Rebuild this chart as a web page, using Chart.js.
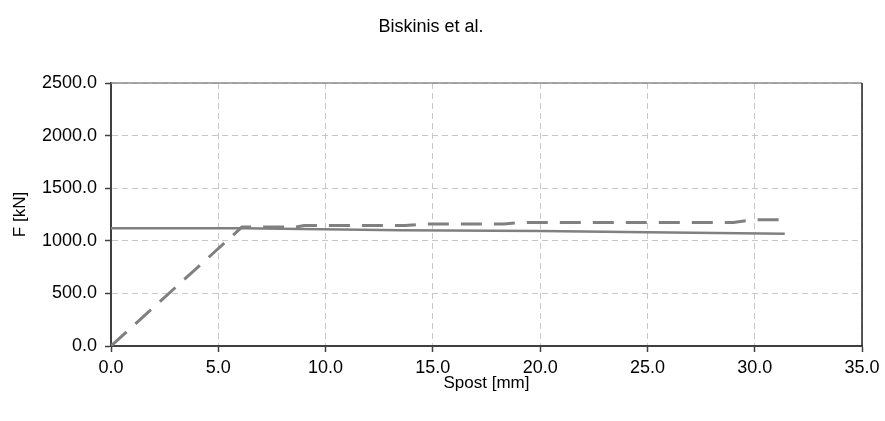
<!DOCTYPE html>
<html>
<head>
<meta charset="utf-8">
<script src="https://cdn.jsdelivr.net/npm/chart.js@4"></script>
<style>
  html, body { margin: 0; padding: 0; background: #ffffff; }
  #wrap { width: 885px; height: 421px; position: relative; }
</style>
</head>
<body>
<div id="wrap"><canvas id="c"></canvas></div>
<script>
// Chart text
const chartTitle = 'Biskinis et al.';
const xAxisTitle = 'Spost [mm]';
const yAxisTitle = 'F [kN]';

// Axis ranges and tick steps
const xTicks = [0, 5, 10, 15, 20, 25, 30, 35];
const yTicks = [0, 500, 1000, 1500, 2000, 2500];

// Dashed curve: force vs. displacement (multi-linear envelope)
const dashedSpost = [0, 6.1, 8.6, 9.0, 13.7, 14.6, 18.3, 19.2, 29.0, 29.9, 31.3];
const dashedF     = [0, 1130, 1130, 1145, 1145, 1160, 1160, 1175, 1175, 1200, 1200];

// Solid curve: shear capacity vs. displacement
const solidSpost = [0, 6.1, 13.5, 20.0, 25.0, 31.4];
const solidF     = [1120, 1120, 1100, 1092, 1082, 1068];

const toPoints = (xs, ys) => xs.map((x, i) => ({ x: x, y: ys[i] }));

const FAMILY = 'Liberation Sans, Arial, sans-serif';
const TICK_FONT = { family: FAMILY, size: 18 };
const AXIS_FONT = { family: FAMILY, size: 17 };
const TITLE_FONT = { family: FAMILY, size: 18, weight: 'normal' };
const lh = f => f.size * 1.2;

// Frame on the top and right sides of the plot area
const frame = {
  id: 'frame',
  afterDatasetsDraw(chart) {
    const { ctx, chartArea: a } = chart;
    ctx.save();
    ctx.lineWidth = 1.5;
    ctx.strokeStyle = '#8c8c8c';
    ctx.beginPath();
    ctx.moveTo(a.left, a.top);
    ctx.lineTo(a.right, a.top);
    ctx.stroke();
    ctx.strokeStyle = '#222222';
    ctx.beginPath();
    ctx.moveTo(a.right, a.top);
    ctx.lineTo(a.right, a.bottom);
    ctx.stroke();
    ctx.restore();
  }
};

new Chart(document.getElementById('c'), {
  type: 'line',
  data: {
    datasets: [
      {
        data: toPoints(solidSpost, solidF),
        borderColor: '#808080',
        borderWidth: 2.5,
        pointRadius: 0,
        tension: 0,
        fill: false
      },
      {
        data: toPoints(dashedSpost, dashedF),
        borderColor: '#808080',
        borderWidth: 3,
        borderDash: [21, 12],
        pointRadius: 0,
        tension: 0,
        fill: false
      }
    ]
  },
  options: {
    responsive: true,
    maintainAspectRatio: false,
    animation: false,
    layout: { padding: { left: 0, right: 23, top: 0, bottom: 0 } },
    plugins: {
      legend: { display: false },
      tooltip: { enabled: false },
      title: {
        display: true,
        text: chartTitle,
        color: '#000000',
        font: TITLE_FONT,
        padding: { top: 27 - lh(TITLE_FONT) / 2, bottom: 83 - (27 + lh(TITLE_FONT) / 2) }
      }
    },
    scales: {
      x: {
        type: 'linear',
        min: xTicks[0],
        max: xTicks[xTicks.length - 1],
        afterFit(scale) { scale.height = 421 - 346; },
        afterBuildTicks(scale) { scale.ticks = xTicks.map(v => ({ value: v })); },
        ticks: {
          color: '#000000',
          font: TICK_FONT,
          padding: 5,
          maxRotation: 0,
          callback: v => Number(v).toFixed(1)
        },
        grid: {
          color: '#c8c8c8',
          lineWidth: 1,
          drawTicks: true,
          tickLength: 6,
          tickColor: '#404040',
          tickWidth: 1.5
        },
        border: { display: true, color: '#404040', width: 2, dash: [6, 4] },
        title: {
          display: true,
          text: xAxisTitle,
          color: '#000000',
          font: AXIS_FONT,
          padding: { top: 0, bottom: 421 - 383 - lh(AXIS_FONT) / 2 }
        }
      },
      y: {
        type: 'linear',
        min: yTicks[0],
        max: yTicks[yTicks.length - 1],
        afterFit(scale) { scale.width = 111; },
        afterBuildTicks(scale) { scale.ticks = yTicks.map(v => ({ value: v })); },
        ticks: {
          color: '#000000',
          font: TICK_FONT,
          padding: 8,
          callback: v => Number(v).toFixed(1)
        },
        grid: {
          color: '#c8c8c8',
          lineWidth: 1,
          drawTicks: true,
          tickLength: 6,
          tickColor: '#404040',
          tickWidth: 1.5
        },
        border: { display: true, color: '#404040', width: 2, dash: [6, 4] },
        title: {
          display: true,
          text: yAxisTitle,
          color: '#000000',
          font: AXIS_FONT,
          padding: { top: 20 - lh(AXIS_FONT) / 2, bottom: 0 }
        }
      }
    }
  },
  plugins: [frame]
});
</script>
</body>
</html>
